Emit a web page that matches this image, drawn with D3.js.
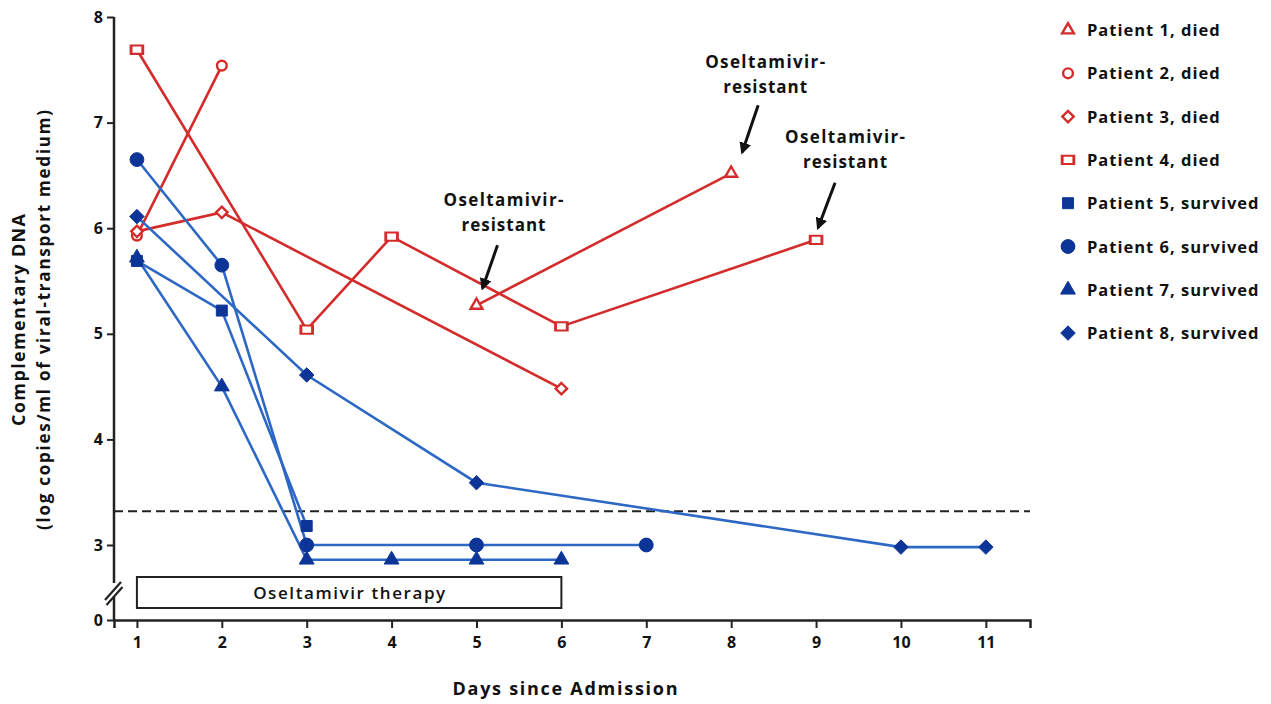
<!DOCTYPE html>
<html><head><meta charset="utf-8">
<script src="https://cdn.jsdelivr.net/npm/d3@7"></script>
<style>
body{margin:0;background:#fff;}
text{font-family:"Open Sans",sans-serif;font-weight:700;fill:#111;}
</style></head>
<body><svg id="c" width="1271" height="704"></svg>
<script>
const days = [1,2,3,4,5,6,7,8,9,10,11];
const yTicks = [0,3,4,5,6,7,8];
const patients = ["Patient 1, died","Patient 2, died","Patient 3, died","Patient 4, died",
  "Patient 5, survived","Patient 6, survived","Patient 7, survived","Patient 8, survived"];
const p1 = [[5,5.27],[8,6.52]];
const p2 = [[1,5.93],[2,7.54]];
const p3 = [[1,5.97],[2,6.15],[6,4.48]];
const p4 = [[1,7.69],[3,5.04],[4,5.92],[6,5.07],[9,5.89]];
const p5 = [[1,5.69],[2,5.22],[3,3.18]];
const p6 = [[1,6.65],[2,5.65],[3,3.0],[5,3.0],[7,3.0]];
const p7 = [[1,5.72],[2,4.50],[3,2.86],[4,2.86],[5,2.86],[6,2.86]];
const p8 = [[1,6.11],[3,4.61],[5,3.59],[10,2.98],[11,2.98]];
const detectionLimit = 3.32;
const therapy = [1,6];
const annotations = [
  {pt:[8,6.52], text:["Oseltamivir-","resistant"]},
  {pt:[9,5.89], text:["Oseltamivir-","resistant"]},
  {pt:[5,5.27], text:["Oseltamivir-","resistant"]}
];

const series = [p1,p2,p3,p4,p5,p6,p7,p8];
const RED="#d42b2b", BLUE_L="#2d68c4", BLUE_M="#0c3597";
const sq45 = {draw(ctx,size){const r=Math.sqrt(size/2);ctx.moveTo(0,-r);ctx.lineTo(r,0);ctx.lineTo(0,r);ctx.lineTo(-r,0);ctx.closePath();}};
const shapes=[d3.symbolTriangle,d3.symbolCircle,sq45,d3.symbolSquare,
  d3.symbolSquare,d3.symbolCircle,d3.symbolTriangle,sq45];
const sizes=[60,75,65,95,120,150,95,105];

const svg=d3.select("#c");
const x=d3.scaleLinear().domain([0.73,11.52]).range([114,1030]);
const y=d3.scaleLinear().domain([0,2.6,8]).range([620,17+5.4*105.6,17]);

// axes
const gx=svg.append("g").attr("transform","translate(0,620)")
  .call(d3.axisBottom(x).tickValues(days).tickSize(8).tickPadding(9).tickFormat(d3.format("d")));
gx.select(".domain").attr("stroke","#222").attr("stroke-width",2.5);
gx.selectAll(".tick line").attr("stroke","#222").attr("stroke-width",2);
gx.selectAll(".tick text").style("font-size","16px").attr("fill","#111");

const gy=svg.append("g").attr("transform","translate(114,0)")
  .call(d3.axisLeft(y).tickValues(yTicks).tickSize(7).tickPadding(4).tickFormat(d3.format("d")));
gy.select(".domain").remove();
gy.selectAll(".tick line").attr("stroke","#222").attr("stroke-width",2);
gy.selectAll(".tick text").style("font-size","16px").attr("fill","#111");
svg.append("line").attr("x1",114).attr("x2",114).attr("y1",y(8)).attr("y2",583).attr("stroke","#222").attr("stroke-width",2.5);
svg.append("line").attr("x1",114).attr("x2",114).attr("y1",597).attr("y2",621).attr("stroke","#222").attr("stroke-width",2.5);
[0,5].forEach(o=>{
  svg.append("line").attr("x1",105+o*0.3).attr("y1",600+o).attr("x2",121+o*0.3).attr("y2",582+o)
    .attr("stroke","#222").attr("stroke-width",2.2);
});

// detection limit
svg.append("line").attr("x1",114).attr("x2",1030).attr("y1",y(detectionLimit)).attr("y2",y(detectionLimit))
  .attr("stroke","#222").attr("stroke-width",2).attr("stroke-dasharray","9,5");

// therapy box
svg.append("rect").attr("x",x(therapy[0])).attr("y",577).attr("width",x(therapy[1])-x(therapy[0])).attr("height",31)
  .attr("fill","#fff").attr("stroke","#222").attr("stroke-width",2);
svg.append("text").attr("x",(x(therapy[0])+x(therapy[1]))/2).attr("y",599).attr("text-anchor","middle")
  .style("font-size","17px").style("font-weight","600").attr("textLength",192).attr("lengthAdjust","spacing").text("Oseltamivir therapy");

// lines
const line=d3.line().x(d=>x(d[0])).y(d=>y(d[1]));
series.forEach((s,i)=>{
  svg.append("path").attr("d",line(s)).attr("fill","none")
    .attr("stroke",i<4?RED:BLUE_L).attr("stroke-width",2.6);
});
function drawSym(g,i,cx,cy){
  const open=i<4;
  g.append("path").attr("d",d3.symbol().type(shapes[i]).size(sizes[i])())
    .attr("transform",`translate(${cx},${cy})${i===3?" scale(1.2,0.85)":""}`)
    .attr("fill",open?"#fff":BLUE_M).attr("stroke",open?RED:BLUE_M).attr("stroke-width",open?2.4:1);
}
series.forEach((s,i)=>{
  s.forEach(d=>drawSym(svg,i,x(d[0]),y(d[1])));
});

// annotations
svg.append("defs").append("marker").attr("id","ah").attr("viewBox","0 0 10 10").attr("refX",8).attr("refY",5)
  .attr("markerWidth",4).attr("markerHeight",4).attr("orient","auto")
  .append("path").attr("d","M0,0L10,5L0,10z").attr("fill","#111");
const annoOff=[{tx:34,ty:-105,ax0:27,ay0:-68,ax1:11,ay1:-21},
  {tx:29,ty:-97,ax0:19,ay0:-57,ax1:2,ay1:-12},
  {tx:27,ty:-99,ax0:21,ay0:-60,ax1:6,ay1:-17}];
annotations.forEach((a,k)=>{
  const px=x(a.pt[0]), py=y(a.pt[1]), o=annoOff[k];
  a.text.forEach((t,j)=>svg.append("text").attr("x",px+o.tx).attr("y",py+o.ty+j*25)
    .attr("text-anchor","middle").style("font-size","17px")
    .attr("textLength",j===0?120:84).attr("lengthAdjust","spacing").text(t));
  svg.append("line").attr("x1",px+o.ax0).attr("y1",py+o.ay0).attr("x2",px+o.ax1).attr("y2",py+o.ay1)
    .attr("stroke","#111").attr("stroke-width",3).attr("marker-end","url(#ah)");
});

// axis titles
svg.append("text").attr("x",565).attr("y",695).attr("text-anchor","middle").style("font-size","18px")
  .attr("textLength",225).attr("lengthAdjust","spacing").text("Days since Admission");
svg.append("text").attr("transform","translate(25,320) rotate(-90)").attr("text-anchor","middle").style("font-size","18px")
  .attr("textLength",212).attr("lengthAdjust","spacing").text("Complementary DNA");
svg.append("text").attr("transform","translate(50,320) rotate(-90)").attr("text-anchor","middle").style("font-size","17px")
  .attr("textLength",420).attr("lengthAdjust","spacing").text("(log copies/ml of viral-transport medium)");

// legend
const lg=svg.append("g");
patients.forEach((p,i)=>{
  const ly=30+i*43.3;
  drawSym(lg,i,1068,ly);
  lg.append("text").attr("x",1087).attr("y",ly+6).style("font-size","16.5px").style("letter-spacing","1px").text(p);
});
</script></body></html>
